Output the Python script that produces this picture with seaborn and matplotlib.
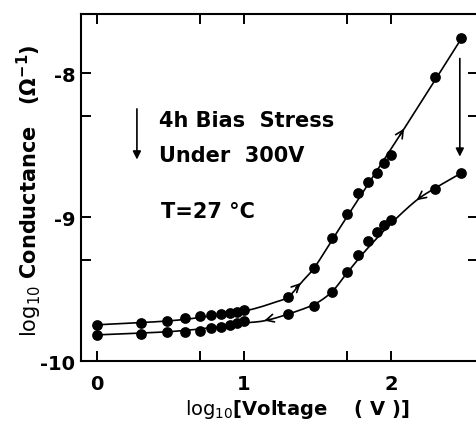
import numpy as np
import pandas as pd
import matplotlib
matplotlib.use("Agg")
import matplotlib.pyplot as plt
import seaborn as sns

# ---- data (log10 V, log10 conductance) ----
volt_log = [0.0, 0.301, 0.477, 0.602, 0.699, 0.778, 0.845, 0.903, 0.954, 1.0,
            1.301, 1.477, 1.602, 1.699, 1.778, 1.845, 1.903, 1.954, 2.0, 2.301, 2.477]
cond_up = [-9.748, -9.736, -9.722, -9.699, -9.687, -9.680, -9.671, -9.664, -9.662, -9.648,
           -9.558, -9.356, -9.148, -8.979, -8.833, -8.755, -8.697, -8.625, -8.567, -8.030, -7.759]
cond_down = [-9.818, -9.811, -9.795, -9.795, -9.788, -9.771, -9.760, -9.746, -9.734, -9.725,
             -9.674, -9.620, -9.517, -9.382, -9.264, -9.165, -9.104, -9.056, -9.019, -8.806, -8.694]

# drawn guide curves
fit_up_x = [0.0, 0.5, 0.8, 1.0, 1.1, 1.2, 1.3, 1.39, 1.48, 1.6, 1.7, 2.0, 2.3, 2.48]
fit_up_y = [-9.748, -9.72, -9.683, -9.652, -9.628, -9.595, -9.555, -9.455, -9.35, -9.16, -9.0, -8.53, -8.05, -7.76]
fit_dn_x = [0.0, 0.5, 0.8, 1.0, 1.14, 1.3, 1.48, 1.6, 1.7, 1.8, 1.9, 2.0, 2.17, 2.3, 2.48]
fit_dn_y = [-9.818, -9.795, -9.765, -9.736, -9.72, -9.674, -9.605, -9.517, -9.39, -9.265, -9.152, -9.045, -8.887, -8.80, -8.694]

# direction arrows on curves: (x_from, y_from, x_to, y_to)
curve_arrows = [
    (1.34, -9.505, 1.40, -9.444),
    (2.05, -8.45, 2.10, -8.37),
    (2.22, -8.848, 2.16, -8.895),
    (1.19, -9.705, 1.12, -9.724),
]

xticks_major = [0, 1, 2]
xticks_minor = [0.699, 1.699]
yticks_major = [-10, -9, -8]
yticks_minor = [-9.301, -8.301]
ytick_labels = ["-10", "-9", "-8"]


def catmull(xs, ys, n=20):
    p = np.column_stack([xs, ys]).astype(float)
    p = np.vstack([2 * p[0] - p[1], p, 2 * p[-1] - p[-2]])
    out = []
    for i in range(1, len(p) - 2):
        p0, p1, p2, p3 = p[i - 1], p[i], p[i + 1], p[i + 2]
        t = np.linspace(0, 1, n, endpoint=False)[:, None]
        seg = 0.5 * ((2 * p1) + (-p0 + p2) * t + (2 * p0 - 5 * p1 + 4 * p2 - p3) * t ** 2
                     + (-p0 + 3 * p1 - 3 * p2 + p3) * t ** 3)
        out.append(seg)
    out.append(p[-2][None, :])
    a = np.vstack(out)
    return a[:, 0], a[:, 1]


sns.set_style("white")
plt.rcParams['font.family'] = ['DejaVu Sans']
plt.rcParams['mathtext.fontset'] = 'custom'
plt.rcParams['mathtext.rm'] = 'DejaVu Sans'
plt.rcParams['mathtext.bf'] = 'DejaVu Sans:bold'
plt.rcParams['mathtext.default'] = 'regular'
plt.rcParams['text.color'] = 'black'
plt.rcParams['axes.labelcolor'] = 'black'

fig = plt.figure(figsize=(4.76, 4.27), dpi=100)
ax = fig.add_axes([0.170, 0.152, 1.004 - 0.170, 0.965 - 0.152])

ux, uy = catmull(fit_up_x, fit_up_y)
dx, dy = catmull(fit_dn_x, fit_dn_y)
lines = pd.concat([
    pd.DataFrame({"x": ux, "y": uy, "s": "up"}),
    pd.DataFrame({"x": dx, "y": dy, "s": "down"}),
])
sns.lineplot(data=lines, x="x", y="y", units="s", estimator=None, sort=False,
             color="black", lw=1.2, ax=ax, legend=False)

pts = pd.concat([
    pd.DataFrame({"x": volt_log, "y": cond_up}),
    pd.DataFrame({"x": volt_log, "y": cond_down}),
])
sns.scatterplot(data=pts, x="x", y="y", color="black", s=60, edgecolor="black",
                linewidth=0, ax=ax, legend=False, zorder=3)

for x0, y0, x1, y1 in curve_arrows:
    ax.annotate("", xy=(x1, y1), xytext=(x0, y0),
                arrowprops=dict(arrowstyle="->", lw=1.2, color="black", mutation_scale=14))

# stress arrows
ax.annotate("", xy=(0.272, -8.62), xytext=(0.272, -8.23),
            arrowprops=dict(arrowstyle="-|>", lw=1.2, color="black", mutation_scale=12))
ax.annotate("", xy=(2.469, -8.60), xytext=(2.469, -7.88),
            arrowprops=dict(arrowstyle="-|>", lw=1.2, color="black", mutation_scale=12))

tkw = dict(fontsize=15, fontweight="bold", color="black")
ax.text(0.422, -8.368, "4h Bias  Stress", **tkw)
ax.text(0.422, -8.611, "Under  300V", **tkw)
ax.text(0.435, -9.0, "T=27 °C", **tkw)

ax.set_xlim(-0.109, 2.592)
ax.set_ylim(-10, -7.59)
ax.set_xticks(xticks_major)
ax.set_xticks(xticks_minor, minor=True)
ax.set_yticks(yticks_major)
ax.set_yticks(yticks_minor, minor=True)
ax.set_xticklabels([str(v) for v in xticks_major])
ax.set_yticklabels(ytick_labels)
for lab in ax.get_xticklabels() + ax.get_yticklabels():
    lab.set_fontweight("bold")
    lab.set_fontsize(14)
ax.tick_params(which="both", direction="in", length=7, width=1.4, top=True, right=True,
               bottom=True, left=True, colors="black")
ax.tick_params(axis="y", pad=4)
ax.tick_params(axis="x", pad=9)
for s in ax.spines.values():
    s.set_linewidth(1.5)
    s.set_color("black")

ax.set_xlabel(r"$\mathrm{log_{10}}$[Voltage    ( V )]", fontsize=14, fontweight="bold", color="black")
ax.set_ylabel(r"$\mathrm{log_{10}}$ Conductance   ($\Omega^{-1}$)", fontsize=15, fontweight="bold", color="black")
ax.xaxis.set_label_coords((297 - 81) / 397, -(398 - 362) / 347)
ax.yaxis.set_label_coords(-(81 - 29) / 397, (362 - 191) / 347)
ax.yaxis.label.set_va("center")

fig.savefig("out.png", dpi=100)
